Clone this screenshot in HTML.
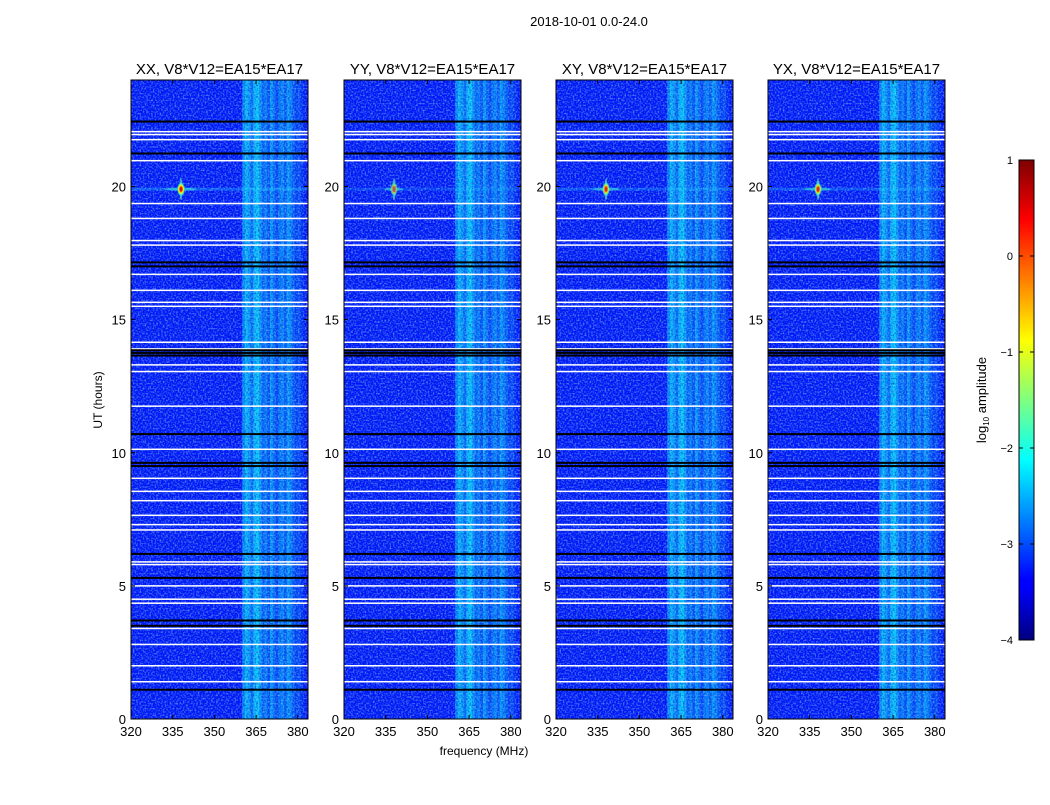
<!DOCTYPE html>
<html><head><meta charset="utf-8"><style>
body{margin:0;background:#fff;}
svg text{font-family:"Liberation Sans",sans-serif;fill:#000;}
</style></head><body>
<svg id="fig" width="1050" height="800" viewBox="0 0 1050 800" xmlns="http://www.w3.org/2000/svg">
<defs>
<filter id="noise" x="0" y="0" width="100%" height="100%">
<feTurbulence type="fractalNoise" baseFrequency="0.6" numOctaves="1" seed="3"/>
<feColorMatrix type="matrix" values="0 0 0 0 0.25  0 0 0 0 0.6  0 0 0 0 1  0 0 0 2.4 -1.05"/>
</filter>
<filter id="noise2" x="0" y="0" width="100%" height="100%">
<feTurbulence type="fractalNoise" baseFrequency="0.6" numOctaves="1" seed="11"/>
<feColorMatrix type="matrix" values="0 0 0 0 0  0 0 0 0 0.05  0 0 0 0 0.55  0 0 0 2.2 -0.95"/>
</filter>
<linearGradient id="jet" x1="0" y1="1" x2="0" y2="0">
<stop offset="0" stop-color="#00007f"/><stop offset="0.11" stop-color="#0000ff"/>
<stop offset="0.125" stop-color="#0000ff"/><stop offset="0.375" stop-color="#00ffff"/>
<stop offset="0.5" stop-color="#7fff7f"/><stop offset="0.625" stop-color="#ffff00"/>
<stop offset="0.875" stop-color="#ff0000"/><stop offset="1" stop-color="#7f0000"/>
</linearGradient>
<radialGradient id="star">
<stop offset="0" stop-color="#c00000"/><stop offset="0.3" stop-color="#ff2000"/>
<stop offset="0.55" stop-color="#ffff00"/><stop offset="0.8" stop-color="#40ffc0" stop-opacity="0.8"/>
<stop offset="1" stop-color="#00ffff" stop-opacity="0"/>
</radialGradient>
</defs>
<text x="589" y="26" font-size="13" text-anchor="middle">2018-10-01 0.0-24.0</text>
<text x="484" y="755" font-size="12" text-anchor="middle">frequency (MHz)</text>
<text transform="translate(102,400) rotate(-90)" font-size="12" text-anchor="middle">UT (hours)</text>
<g id="panels"></g>
<g id="cbar"></g>
</svg>
<script>
const panelTitles = ["XX, V8*V12=EA15*EA17","YY, V8*V12=EA15*EA17","XY, V8*V12=EA15*EA17","YX, V8*V12=EA15*EA17"];
const xTicks = [320,335,350,365,380];
const yTicks = [0,5,10,15,20];
const bgLevel = -3.3;
const bandFreqs = [360,361,362,363,364,365,366,367,368,369,370,371,372,373,374,375,376,377,378,379,380,381];
const bandLevels = [-2.7,-2.45,-2.6,-2.85,-2.45,-2.35,-2.6,-2.9,-2.75,-3.0,-2.6,-2.85,-3.05,-2.8,-2.7,-2.95,-2.6,-2.75,-2.95,-3.1,-3.0,-3.2];
const blackLines = [22.44,21.24,17.15,17.0,13.85,13.75,13.65,10.7,9.62,9.5,6.2,5.3,3.7,3.5,1.1];
const whiteLines = [22.06,21.95,21.76,20.97,19.36,18.8,17.97,17.8,16.7,16.1,15.65,15.5,14.15,13.9,13.3,13.05,11.75,10.13,9.04,8.55,8.2,7.65,7.3,7.1,5.9,5.8,5.0,4.5,4.35,3.4,2.8,2.0,1.4];
const starFreq = [338,338,338,338];
const starHour = [19.9,19.9,19.9,19.9];
const starPeak = [1.0,0.6,0.85,0.85];
const cbarTicks = [1,0,-1,-2,-3,-4];

const NS="http://www.w3.org/2000/svg";
function el(tag,attrs,parent){const e=document.createElementNS(NS,tag);for(const k in attrs)e.setAttribute(k,attrs[k]);if(parent)parent.appendChild(e);return e;}
function jet(v){let t=(v+4)/5;t=Math.max(0,Math.min(1,t));
 const r=Math.max(0,Math.min(1,Math.min(4*t-1.5,-4*t+4.5)));
 const g=Math.max(0,Math.min(1,Math.min(4*t-0.5,-4*t+3.5)));
 const b=Math.max(0,Math.min(1,Math.min(4*t+0.5,-4*t+2.5)));
 return `rgb(${Math.round(r*255)},${Math.round(g*255)},${Math.round(b*255)})`;}
const panelX=[131,344,556,768], PW=177, PT=80, PB=719;
const fMin=320, fMax=320+PW*15/41.7, hMax=24;
const panels=document.getElementById('panels');
panelX.forEach((x0,p)=>{
 const xs=f=>x0+(f-fMin)/(fMax-fMin)*PW;
 const ys=h=>PB-h/hMax*(PB-PT);
 const g=el('g',{},panels);
 
 
 const clip=el('clipPath',{id:'c'+p},g);el('rect',{x:x0,y:PT,width:PW,height:PB-PT},clip);
 const img=el('g',{'clip-path':`url(#c${p})`},g);
 el('rect',{x:x0,y:PT,width:PW,height:PB-PT,fill:jet(bgLevel)},img);
 bandFreqs.forEach((f,i)=>{
  const r=el('rect',{x:xs(f),y:PT,width:xs(f+1)-xs(f)+0.3,height:PB-PT,fill:jet(bandLevels[i])},img);
  
  
 });
 el('rect',{x:x0,y:PT,width:PW,height:PB-PT,filter:'url(#noise2)'},img);
 el('rect',{x:x0,y:PT,width:PW,height:PB-PT,filter:'url(#noise)',opacity:0.7},img);
 const sx=xs(starFreq[p]), sy=ys(starHour[p]);
 const streak=el('rect',{x:x0,y:sy-1.5,width:PW,height:3,fill:'#30e0ff',opacity:0.3*starPeak[p]},img);
 
 
 el('ellipse',{cx:sx,cy:sy,rx:16*starPeak[p],ry:1.5,fill:'#40ffd0',opacity:0.5},img);
 el('ellipse',{cx:sx,cy:sy,rx:1.5,ry:11,fill:'#60ffb0',opacity:0.6},img);
 const st=el('ellipse',{cx:sx,cy:sy,rx:4,ry:7,fill:'url(#star)',opacity:starPeak[p]},img);
 
 
 whiteLines.forEach(h=>{const l=el('rect',{x:x0,y:ys(h)-0.75,width:PW,height:1.5,fill:'#fff'},img);
  
  });
 blackLines.forEach(h=>{const l=el('rect',{x:x0,y:ys(h)-1,width:PW,height:2,fill:'#000'},img);
  
  });
 el('rect',{x:x0,y:PT,width:PW,height:PB-PT,fill:'none',stroke:'#000','stroke-width':1},g);
 const t=el('text',{x:x0+PW/2,y:74,'font-size':15,'text-anchor':'middle'},g);t.textContent=panelTitles[p];
 
 
 xTicks.forEach(v=>{const x=xs(v);
  el('line',{x1:x,x2:x,y1:PB,y2:PB-4,stroke:'#000'},g);el('line',{x1:x,x2:x,y1:PT,y2:PT+4,stroke:'#000'},g);
  const tx=el('text',{x:x,y:PB+17,'font-size':13,'text-anchor':'middle'},g);tx.textContent=v;
  
  });
 yTicks.forEach(v=>{const y=ys(v);
  el('line',{x1:x0,x2:x0+4,y1:y,y2:y,stroke:'#000'},g);el('line',{x1:x0+PW,x2:x0+PW-4,y1:y,y2:y,stroke:'#000'},g);
  const ty=el('text',{x:x0-5,y:y+5,'font-size':13,'text-anchor':'end'},g);ty.textContent=v;
  
  });
});
const cb=document.getElementById('cbar');
const CX=1019,CW=15,CT=160,CB=640;
const cy=v=>CB-(v+4)/5*(CB-CT);
const cbr=el('rect',{x:CX,y:CT,width:CW,height:CB-CT,fill:'url(#jet)',stroke:'#000','stroke-width':1},cb);


cbarTicks.forEach(v=>{const y=cy(v);
 el('line',{x1:CX,x2:CX+4,y1:y,y2:y,stroke:'#000'},cb);el('line',{x1:CX+CW,x2:CX+CW-4,y1:y,y2:y,stroke:'#000'},cb);
 const t=el('text',{x:CX-6,y:y+4,'font-size':11,'text-anchor':'end'},cb);t.textContent=v<0?'\u2212'+(-v):v;
 
 });
const lab=el('text',{transform:'translate(986,400) rotate(-90)','font-size':13,'text-anchor':'middle'},cb);
lab.innerHTML='log<tspan font-size="8" dy="3">10</tspan><tspan dy="-3"> amplitude</tspan>';


</script>
</body></html>
